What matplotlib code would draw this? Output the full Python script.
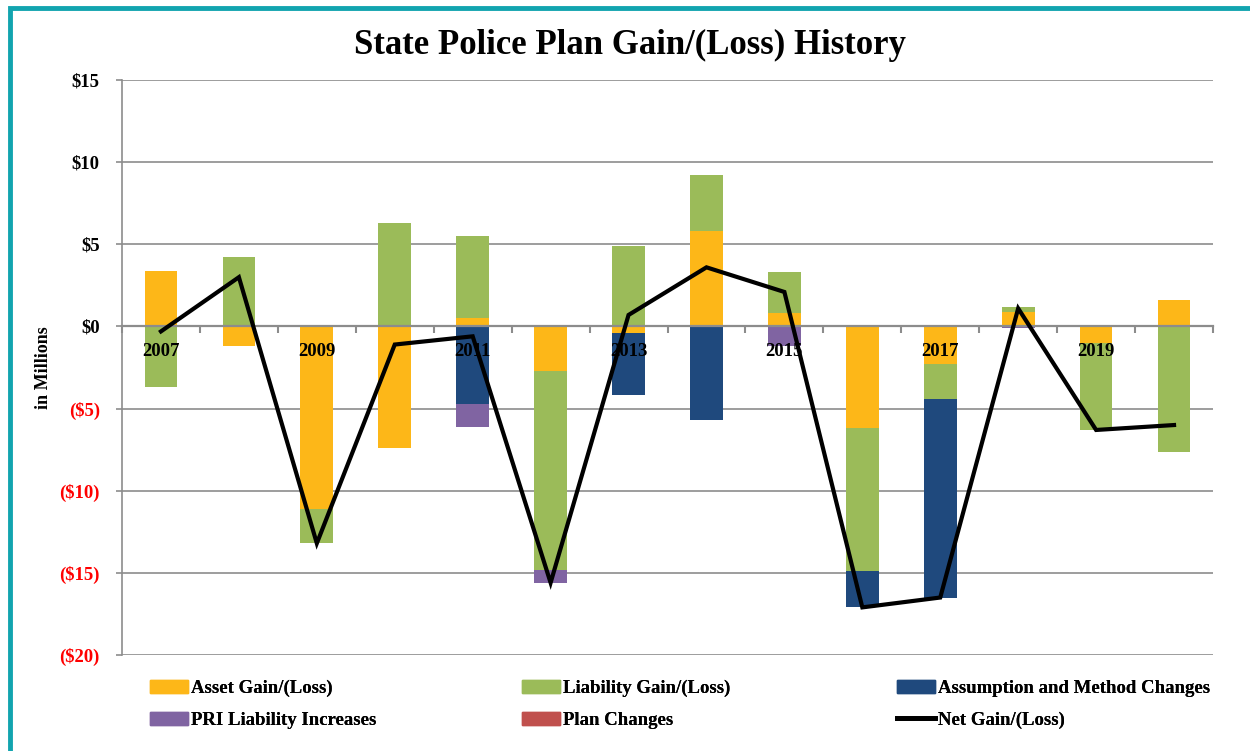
import numpy as np
import matplotlib
matplotlib.use("Agg")
import matplotlib.pyplot as plt
from matplotlib.patches import Rectangle
from matplotlib.lines import Line2D
from matplotlib.ticker import FixedLocator

plt.rcParams['font.family'] = ['Liberation Serif', 'DejaVu Serif']
plt.rcParams['font.weight'] = 'bold'

# data, in $ millions
years = list(range(2007, 2021))
asset = [3.4, -1.2, -11.1, -7.4, 0.5, -2.7, -0.4, 5.8, 0.8, -6.2, -2.3, 0.9, -1.0, 1.6]
liability = [-3.7, 4.2, -2.1, 6.3, 5.0, -12.1, 4.9, 3.45, 2.5, -8.7, -2.1, 0.27, -5.3, -7.65]
assumption = [0, 0, 0, 0, -4.7, 0, -3.8, -5.7, 0, -2.2, -12.1, 0, 0, 0]
pri = [0, 0, 0, 0, -1.4, -0.8, 0, 0, -1.2, 0, 0, -0.1, 0, 0]
plan = [0, 0, 0, 0, 0, 0, 0, 0, 0, 0, 0, 0, 0, 0.04]
net = [-0.3, 3.0, -13.2, -1.1, -0.6, -15.6, 0.7, 3.6, 2.1, -17.1, -16.5, 1.1, -6.3, -6.0]

series = [
    ("Asset Gain/(Loss)", asset, "#FDB718"),
    ("Liability Gain/(Loss)", liability, "#9BBB59"),
    ("Assumption and Method Changes", assumption, "#1F497D"),
    ("PRI Liability Increases", pri, "#8064A2"),
    ("Plan Changes", plan, "#C0504D"),
]

fig = plt.figure(figsize=(12.5, 7.51), dpi=100)
ax = fig.add_axes([0.0976, 0.1278, 0.8728, 0.7656])

x = np.arange(len(years))
pos_base = np.zeros(len(years))
neg_base = np.zeros(len(years))
for name, vals, col in series:
    v = np.array(vals, dtype=float)
    bottom = np.where(v >= 0, pos_base, neg_base)
    ax.bar(x, v, bottom=bottom, width=0.42, color=col, zorder=2)
    pos_base += np.where(v >= 0, v, 0)
    neg_base += np.where(v < 0, v, 0)

ax.plot(x, net, color="black", lw=3, zorder=6, solid_joinstyle='miter')

ax.set_xlim(-0.5, len(years) - 0.5)
ax.set_ylim(-20, 15)
yt = np.arange(-20, 16, 5)
ax.set_yticks(yt)
ax.set_yticklabels(["$%d" % t if t >= 0 else "($%d)" % -t for t in yt],
                   fontsize=13.5, fontweight='bold')
for lbl, t in zip(ax.get_yticklabels(), yt):
    lbl.set_color('black' if t >= 0 else '#FF0000')
ax.yaxis.grid(True, color="#8C8C8C", lw=1.2, zorder=0)
ax.set_axisbelow(True)
ax.tick_params(axis='y', length=4.5, color='#8C8C8C', width=1.2, pad=11.5)

# x axis sits at zero
ax.spines['bottom'].set_position(('data', 0))
ax.spines['bottom'].set_color('#8C8C8C')
ax.spines['bottom'].set_linewidth(1.6)
ax.spines['bottom'].set_zorder(3)
ax.spines['left'].set_color('#8C8C8C')
ax.spines['left'].set_linewidth(1.2)
ax.spines['top'].set_visible(False)
ax.spines['right'].set_visible(False)
ax.set_xticks(x)
ax.set_xticklabels([str(y) if i % 2 == 0 else "" for i, y in enumerate(years)],
                   fontsize=13.5, fontweight='bold')
ax.tick_params(axis='x', which='major', length=0, pad=12)
ax.xaxis.set_minor_locator(FixedLocator(np.arange(-0.5, len(years), 1.0)))
ax.tick_params(axis='x', which='minor', length=5, color='#8C8C8C', width=1.5, direction='out')
ax.xaxis.set_zorder(5)

ax.set_ylabel("in Millions", fontsize=13, fontweight='bold')
ax.yaxis.set_label_coords(-0.064, 0.5)
fig.text(0.504, 1 - 45 / 751, "State Police Plan Gain/(Loss) History",
         fontsize=25, fontweight='bold', ha='center', va='center')

handles = [Rectangle((0, 0), 1, 1, color=c) for _, _, c in series]
handles.append(Line2D([0], [0], color='black', lw=3.5))
labels = [n for n, _, _ in series] + ["Net Gain/(Loss)"]
# three legend columns, two rows each
cols = [(0, 3, 150), (1, 4, 522), (2, 5, 897)]
for a, b, px in cols:
    leg = fig.legend([handles[a], handles[b]], [labels[a], labels[b]],
                     loc='upper left', bbox_to_anchor=(px / 1250, 1 - 680 / 751),
                     frameon=False, prop={'size': 13.5, 'weight': 'bold'},
                     borderpad=0, borderaxespad=0,
                     handlelength=2.0, handleheight=0.64, handletextpad=0.2,
                     labelspacing=0.78)
    fig.add_artist(leg)

# teal frame around the chart
fig.patches.append(Rectangle((0.008, -0.05), 1.05, 1.04, transform=fig.transFigure,
                             fill=False, edgecolor='#12A4AF', lw=3.5))

fig.savefig("out.png", dpi=100)
